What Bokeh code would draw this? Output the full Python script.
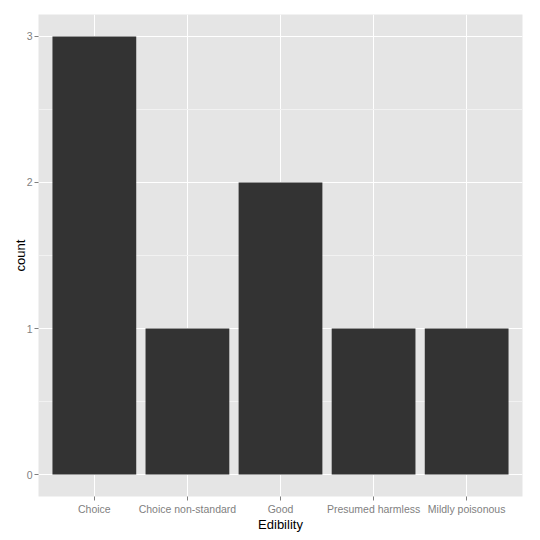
from bokeh.plotting import figure
from bokeh.models import ColumnDataSource, FixedTicker, SingleIntervalTicker, Range1d
from bokeh.embed import file_html
from bokeh.resources import INLINE

categories = ["Choice", "Choice non-standard", "Good", "Presumed harmless", "Mildly poisonous"]
counts = [3, 1, 2, 1, 1]
positions = list(range(1, len(categories) + 1))

src = ColumnDataSource(data=dict(x=positions, top=counts, name=categories))

p = figure(frame_width=484, frame_height=482, output_backend="svg", toolbar_location=None,
           x_range=Range1d(0.4, len(categories) + 0.6), y_range=Range1d(-0.15, 3.15),
           min_border_left=38, min_border_right=9, min_border_top=14, min_border_bottom=28)

p.background_fill_color = "#E5E5E5"
p.border_fill_color = "white"
p.outline_line_color = None

p.vbar(x="x", top="top", bottom=0, width=0.9, source=src,
       fill_color="#333333", line_color=None)

p.xaxis.ticker = FixedTicker(ticks=positions)
p.xaxis.major_label_overrides = {i: c for i, c in zip(positions, categories)}
p.yaxis.ticker = SingleIntervalTicker(interval=1, num_minor_ticks=2)

for ax in (p.xaxis, p.yaxis):
    ax.axis_line_color = None
    ax.major_tick_line_color = "#7F7F7F"
    ax.major_tick_in = 0
    ax.major_tick_out = 4
    ax.minor_tick_line_color = None
    ax.major_label_text_color = "#7F7F7F"
    ax.major_label_text_font = "Liberation Sans"
    ax.major_label_text_font_size = "10.5px"
    ax.major_label_standoff = 2
    ax.axis_label_text_font = "Liberation Sans"
    ax.axis_label_text_font_style = "normal"
    ax.axis_label_text_font_size = "13px"
    ax.axis_label_text_color = "black"
    ax.axis_label_standoff = 1

p.yaxis.axis_label_standoff = -4
p.xaxis.axis_label_standoff = -1

p.xaxis.axis_label = "Edibility"
p.yaxis.axis_label = "count"

p.xgrid.ticker = FixedTicker(ticks=positions)
p.grid.grid_line_color = "white"
p.grid.grid_line_width = 1
p.ygrid.minor_grid_line_color = "#F2F2F2"
p.ygrid.minor_grid_line_width = 1

open("out.html", "w").write(file_html(p, INLINE))
